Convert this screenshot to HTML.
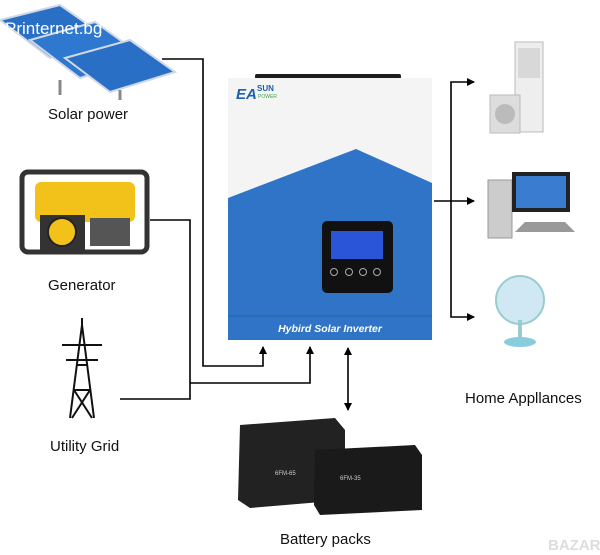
<!DOCTYPE html>
<html><head><meta charset="utf-8"><style>
html,body{margin:0;padding:0;background:#fff;width:600px;height:555px;overflow:hidden}
text{font-family:"Liberation Sans",Arial,sans-serif}
</style></head><body>
<svg width="600" height="555" viewBox="0 0 600 555" xmlns="http://www.w3.org/2000/svg">
<defs>
<marker id="a" markerWidth="8" markerHeight="8" refX="7" refY="4" orient="auto" markerUnits="userSpaceOnUse"><path d="M0,0 L8,4 L0,8 Z" fill="#000"/></marker>
<marker id="b" markerWidth="8" markerHeight="8" refX="1" refY="4" orient="auto" markerUnits="userSpaceOnUse"><path d="M8,0 L0,4 L8,8 Z" fill="#000"/></marker>
</defs>
<!-- solar panels -->
<g>
<polygon points="0,20 60,5 110,40 50,58" fill="#2a6fc6" stroke="#cfd8e6" stroke-width="2"/>
<polygon points="30,40 95,22 145,58 80,78" fill="#2f78d0" stroke="#cfd8e6" stroke-width="2"/>
<polygon points="65,58 130,40 175,72 110,92" fill="#2a6fc6" stroke="#cfd8e6" stroke-width="2"/>
<line x1="60" y1="80" x2="60" y2="95" stroke="#888" stroke-width="3"/>
<line x1="120" y1="90" x2="120" y2="100" stroke="#888" stroke-width="3"/>
</g>
<text x="5" y="34" font-size="17" fill="#fff">Printernet.bg</text>
<text x="48" y="119" font-size="15" fill="#111">Solar power</text>
<!-- generator -->
<g>
<rect x="22" y="172" width="125" height="80" rx="6" fill="none" stroke="#333" stroke-width="5"/>
<rect x="35" y="182" width="100" height="40" rx="6" fill="#f2c21a"/>
<rect x="40" y="215" width="45" height="35" fill="#333"/>
<circle cx="62" cy="232" r="14" fill="#f2c21a" stroke="#222" stroke-width="2"/>
<rect x="90" y="218" width="40" height="28" fill="#555"/>
</g>
<text x="48" y="290" font-size="15" fill="#111">Generator</text>
<!-- tower -->
<g stroke="#111" stroke-width="2" fill="none">
<path d="M70,418 L82,325 L94,418 M74,390 L90,390 M76,365 L88,365 M62,345 L102,345 M66,360 L98,360 M72,418 L90,390 M92,418 L74,390"/>
<line x1="82" y1="318" x2="82" y2="325"/>
</g>
<text x="50" y="451" font-size="15" fill="#111">Utility Grid</text>
<!-- connectors -->
<g stroke="#000" stroke-width="1.6" fill="none">
<polyline points="162,59 203,59 203,366 263,366 263,347" marker-end="url(#a)"/>
<polyline points="150,220 190,220 190,399 120,399"/>
<polyline points="190,383 310,383 310,347" marker-end="url(#a)"/>
<line x1="348" y1="348" x2="348" y2="410" marker-start="url(#b)" marker-end="url(#a)"/>
<line x1="434" y1="201" x2="474" y2="201" marker-end="url(#a)"/>
<polyline points="474,82 451,82 451,317 474,317" marker-start="url(#b)" marker-end="url(#a)"/>
</g>
<!-- inverter -->
<rect x="255" y="74" width="146" height="5" rx="2" fill="#1c1c1c"/>
<rect x="228" y="78" width="204" height="262" fill="#f4f4f4"/>
<polygon points="228,198 356,149 432,183 432,340 228,340" fill="#2f74c6"/>
<line x1="228" y1="316" x2="432" y2="316" stroke="#245fa8" stroke-width="1"/>
<text x="330" y="332" font-size="10.5" font-style="italic" font-weight="bold" fill="#fff" text-anchor="middle">Hybird Solar Inverter</text>
<text x="236" y="99" font-size="15" font-weight="bold" font-style="italic" fill="#1e5fb0">EA</text>
<text x="257" y="91" font-size="8" font-weight="bold" fill="#1e5fb0">SUN</text>
<text x="258" y="98" font-size="5" fill="#38a84a">POWER</text>
<rect x="322" y="221" width="71" height="72" rx="5" fill="#111"/>
<rect x="331" y="231" width="52" height="28" fill="#2a55d8"/>
<g fill="none" stroke="#aaa" stroke-width="1"><circle cx="334" cy="272" r="3.5"/><circle cx="349" cy="272" r="3.5"/><circle cx="363" cy="272" r="3.5"/><circle cx="377" cy="272" r="3.5"/></g>
<!-- appliances -->
<rect x="515" y="42" width="28" height="90" fill="#eee" stroke="#bbb"/>
<rect x="518" y="48" width="22" height="30" fill="#d8d8d8"/>
<rect x="490" y="95" width="30" height="38" fill="#ddd" stroke="#bbb"/>
<circle cx="505" cy="114" r="10" fill="#bbb"/>
<rect x="488" y="180" width="24" height="58" fill="#ccc" stroke="#999"/>
<rect x="512" y="172" width="58" height="40" fill="#222"/>
<rect x="516" y="176" width="50" height="32" fill="#3a7cd0"/>
<polygon points="515,232 575,232 565,222 525,222" fill="#999"/>
<circle cx="520" cy="300" r="24" fill="#cfe8f4" stroke="#9cc" stroke-width="2"/>
<rect x="518" y="320" width="4" height="20" fill="#9cc"/>
<ellipse cx="520" cy="342" rx="16" ry="5" fill="#8cd"/>
<text x="465" y="403" font-size="15" fill="#111">Home Appllances</text>
<!-- batteries -->
<polygon points="240,425 335,418 345,430 345,500 250,508 238,500" fill="#222"/>
<polygon points="315,450 415,445 422,455 422,510 320,515 314,505" fill="#1a1a1a"/>
<text x="275" y="475" font-size="6" fill="#ccc">6FM-65</text>
<text x="340" y="480" font-size="6" fill="#ccc">6FM-35</text>
<text x="280" y="544" font-size="15" fill="#111">Battery packs</text>
<text x="548" y="550" font-size="15" font-weight="bold" fill="#ddd">BAZAR</text>
</svg>
</body></html>
